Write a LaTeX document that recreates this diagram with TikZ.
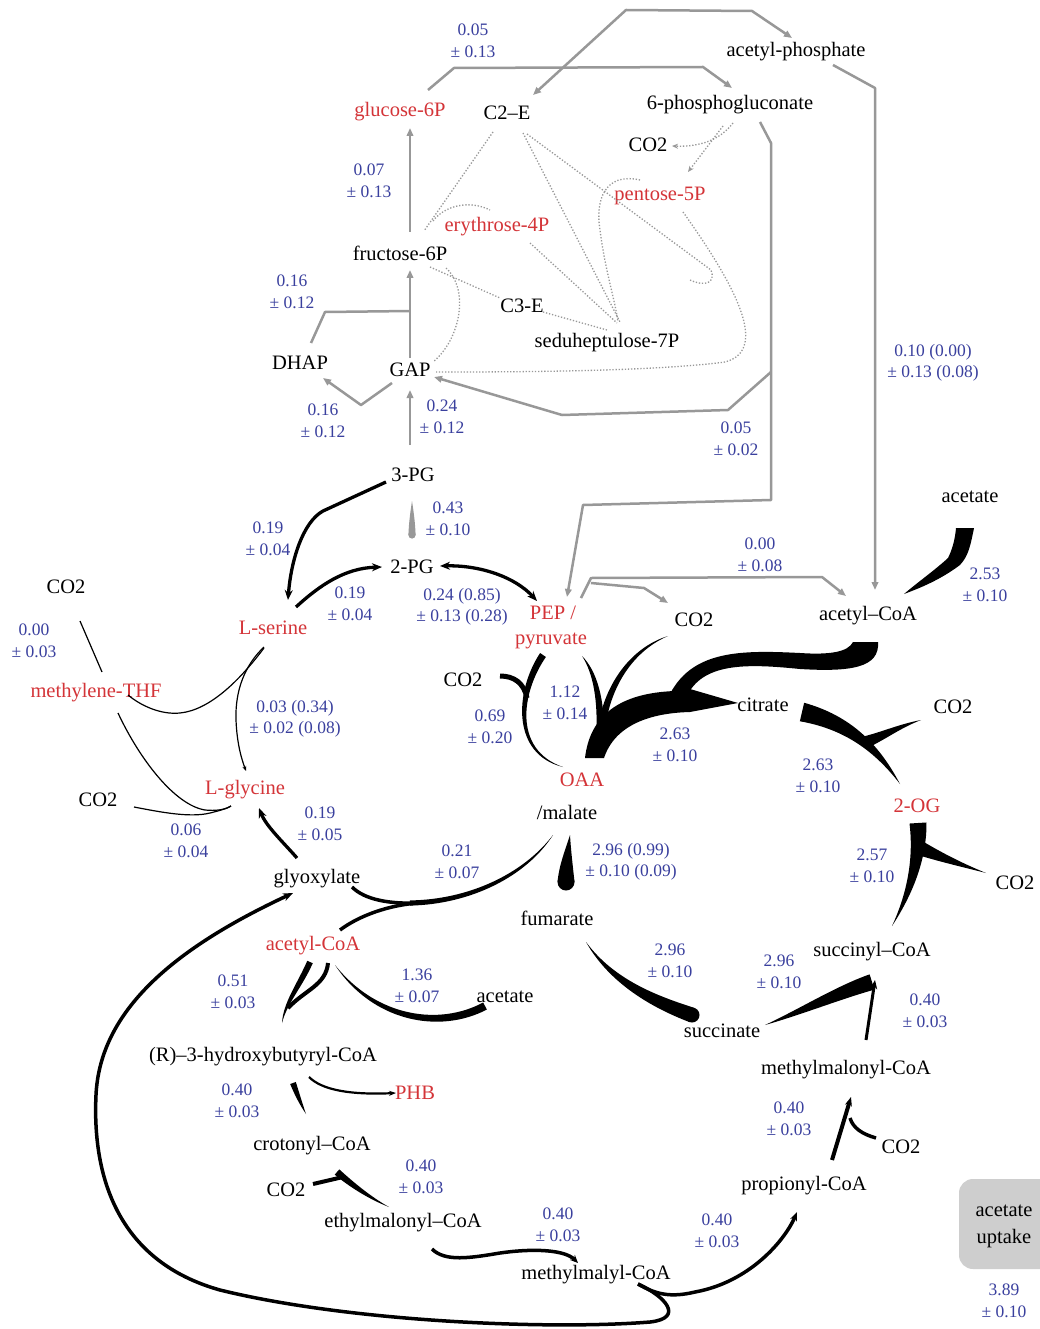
\documentclass[tikz,border=0pt]{standalone}
\usepackage{fontspec}
\setmainfont{Liberation Serif}
\usetikzlibrary{arrows.meta,calc}
\definecolor{fblue}{RGB}{58,64,158}
\definecolor{fred}{RGB}{212,52,56}
\definecolor{fgray}{RGB}{152,152,152}
\definecolor{boxgray}{RGB}{206,206,206}
% tapered filled stroke: P0, C1, C2, P3, half widths at P0, C1, C2
\newcommand{\tp}[8][black]{%
  \fill[#1] ($(#2)!#6!90:(#3)$) .. controls ($(#3)!#7!90:(#4)$) and ($(#4)!#8!90:(#5)$) .. (#5)
    .. controls ($(#4)!#8!-90:(#5)$) and ($(#3)!#7!-90:(#4)$) .. ($(#2)!#6!-90:(#3)$) -- cycle;}
\begin{document}
\begin{tikzpicture}[x=1pt,y=-1pt,
  met/.style={font=\fontsize{20.5}{24}\selectfont, inner sep=0pt, text=black},
  redm/.style={met, text=fred},
  flux/.style={font=\fontsize{17.5}{21.5}\selectfont, text=fblue, align=center, inner sep=0pt},
  gline/.style={draw=fgray, line width=2.5pt, line join=round},
  garr/.style={gline, -{Triangle[length=8pt,width=6.5pt]}},
  dotl/.style={draw=fgray, line width=1.3pt, dash pattern=on 1.3pt off 1.8pt},
  darr/.style={dotl, -{Stealth[length=6pt,width=5pt]}},
  bline/.style={draw=black, line width=3.3pt},
  barr/.style={bline, -{Stealth[length=10pt,width=8pt]}},
  thinl/.style={draw=black, line width=1.2pt}]
\fill[white] (0,0) rectangle (1040,1329);
\useasboundingbox (0,0) rectangle (1040,1329);

% ---------------- metabolites ----------------
\node[met] (acp) at (796,52) {acetyl-phosphate};
\node[redm] (g6p) at (400,112) {glucose-6P};
\node[met] (c2e) at (507,113) {C2–E};
\node[met] (pg6) at (730,105) {6-phosphogluconate};
\node[met] (co2a) at (648,145) {CO2};
\node[redm] (p5p) at (660,196) {pentose-5P};
\node[redm] (e4p) at (497,227) {erythrose-4P};
\node[met] (f6p) at (400,253) {fructose-6P};
\node[met] (c3e) at (522,306) {C3-E};
\node[met] (s7p) at (607,343) {seduheptulose-7P};
\node[met] (dhap) at (300,363) {DHAP};
\node[met] (gap) at (410,370) {GAP};
\node[met] (pg3) at (413,475) {3-PG};
\node[met] (acet1) at (970,497) {acetate};
\node[met] (pg2) at (412,567) {2-PG};
\node[met] (co2b) at (66,587) {CO2};
\node[redm] (pep) at (553,613) {PEP /};
\node[redm] (pyr) at (551,641) {pyruvate};
\node[met] (co2c) at (694,620) {CO2};
\node[met] (acoa1) at (868,616) {acetyl–CoA};
\node[redm] (ser) at (273,628) {L-serine};
\node[redm] (mthf) at (96,693) {methylene-THF};
\node[met] (co2d) at (463,680) {CO2};
\node[met] (cit) at (763,705) {citrate};
\node[met] (co2e) at (953,707) {CO2};
\node[redm] (oaa) at (582,780) {OAA};
\node[redm] (gly) at (245,790) {L-glycine};
\node[met] (co2f) at (98,800) {CO2};
\node[redm] (og) at (917,806) {2-OG};
\node[met] (mal) at (567,812) {/malate};
\node[met] (co2g) at (1015,883) {CO2};
\node[met] (glx) at (317,879) {glyoxylate};
\node[met] (fum) at (557,918) {fumarate};
\node[redm] (acoa2) at (313,946) {acetyl-CoA};
\node[met] (scoa) at (872,952) {succinyl–CoA};
\node[met] (acet2) at (505,997) {acetate};
\node[met] (succ) at (722,1031) {succinate};
\node[met] (hb) at (263,1057) {(R)–3-hydroxybutyryl-CoA};
\node[met] (mmcoa) at (846,1070) {methylmalonyl-CoA};
\node[redm] (phb) at (415,1093) {PHB};
\node[met] (crot) at (312,1146) {crotonyl–CoA};
\node[met] (co2h) at (901,1147) {CO2};
\node[met] (co2i) at (286,1190) {CO2};
\node[met] (prop) at (804,1186) {propionyl-CoA};
\node[met] (emcoa) at (403,1223) {ethylmalonyl–CoA};
\node[met] (mmal) at (596,1275) {methylmalyl-CoA};
\fill[boxgray, rounded corners=14pt] (959,1179) rectangle (1070,1269);
\node[met, align=center, font=\fontsize{20.5}{27}\selectfont] (upt) at (1004,1226) {acetate\\uptake};

% ---------------- flux labels ----------------
\node[flux] (f1) at (473,41) {0.05\\± 0.13};
\node[flux] (f2) at (369,181) {0.07\\± 0.13};
\node[flux] (f3) at (292,292) {0.16\\± 0.12};
\node[flux] (f4) at (933,363) {0.10 (0.00)\\± 0.13 (0.08)};
\node[flux] (f5) at (323,421) {0.16\\± 0.12};
\node[flux] (f6) at (442,417) {0.24\\± 0.12};
\node[flux] (f7) at (736,439) {0.05\\± 0.02};
\node[flux] (f8) at (448,519) {0.43\\± 0.10};
\node[flux] (f9) at (268,539) {0.19\\± 0.04};
\node[flux] (f10) at (760,555) {0.00\\± 0.08};
\node[flux] (f11) at (985,585) {2.53\\± 0.10};
\node[flux] (f12) at (350,604) {0.19\\± 0.04};
\node[flux] (f13) at (462,607) {0.24 (0.85)\\± 0.13 (0.28)};
\node[flux] (f14) at (34,641) {0.00\\± 0.03};
\node[flux] (f15) at (565,703) {1.12\\± 0.14};
\node[flux] (f16) at (295,719) {0.03 (0.34)\\± 0.02 (0.08)};
\node[flux] (f17) at (490,727) {0.69\\± 0.20};
\node[flux] (f18) at (675,745) {2.63\\± 0.10};
\node[flux] (f19) at (818,776) {2.63\\± 0.10};
\node[flux] (f20) at (320,824) {0.19\\± 0.05};
\node[flux] (f21) at (186,841) {0.06\\± 0.04};
\node[flux] (f22) at (631,862) {2.96 (0.99)\\± 0.10 (0.09)};
\node[flux] (f23) at (457,862) {0.21\\± 0.07};
\node[flux] (f24) at (872,866) {2.57\\± 0.10};
\node[flux] (f25) at (670,961) {2.96\\± 0.10};
\node[flux] (f26) at (779,972) {2.96\\± 0.10};
\node[flux] (f27) at (233,992) {0.51\\± 0.03};
\node[flux] (f28) at (417,986) {1.36\\± 0.07};
\node[flux] (f29) at (925,1011) {0.40\\± 0.03};
\node[flux] (f30) at (237,1101) {0.40\\± 0.03};
\node[flux] (f31) at (789,1119) {0.40\\± 0.03};
\node[flux] (f32) at (421,1177) {0.40\\± 0.03};
\node[flux] (f33) at (558,1225) {0.40\\± 0.03};
\node[flux] (f34) at (717,1231) {0.40\\± 0.03};
\node[flux] (f35) at (1004,1301) {3.89\\± 0.10};

% ---------------- gray connectors ----------------
\draw[garr] (428,90) -- (454,68) -- (703,67) -- (732,88);
\draw[gline, {Triangle[length=8pt,width=6.5pt]}-{Triangle[length=8pt,width=6.5pt]}] (533,95) -- (626,10) -- (752,11) -- (792,38);
\draw[garr] (833,65) -- (875,88) -- (875,590);
\draw[garr] (760,122) -- (771,143) -- (771,500) -- (583,505) -- (567,597);
\draw[garr] (771,372) -- (728,410) -- (562,415) -- (434,377);
\draw[garr] (410,232) -- (410,128);
\draw[garr] (410,358) -- (410,270);
\draw[gline] (311,343) -- (325,312) -- (410,311);
\draw[garr] (392,383) -- (361,405) -- (323,378);
\draw[garr] (410,445) -- (410,390);
\draw[garr] (581,598) -- (591,578) -- (822,577) -- (846,596);
\draw[garr] (591,583) -- (644,588) -- (668,603);
\fill[fgray] (412,535) circle (3.6);
\tp[fgray]{412,535}{412,524}{412,514}{412,501}{3.6pt}{3.2pt}{2pt}

% ---------------- dotted (pentose phosphate) ----------------
\draw[dotl] (493,132) -- (424,231);
\draw[dotl] (433,221) .. controls (445,205) and (470,200) .. (490,210);
\draw[dotl] (523,133) -- (620,322);
\draw[dotl] (527,134) -- (711,270) .. controls (716,283) and (705,287) .. (690,280);
\draw[dotl] (640,180) .. controls (605,172) and (595,200) .. (600,230) .. controls (605,270) and (615,300) .. (618,322);
\draw[dotl] (683,212) .. controls (735,285) and (770,350) .. (725,362) .. controls (650,372) and (500,372) .. (436,372);
\draw[dotl] (446,268) .. controls (470,290) and (460,340) .. (433,362);
\draw[dotl] (430,267) -- (500,298);
\draw[dotl] (543,312) -- (607,330);
\draw[dotl] (530,243) -- (617,323);
\draw[darr] (733,123) .. controls (720,140) and (700,147) .. (672,146);
\draw[darr] (723,126) -- (688,172);

% ---------------- black connectors ----------------
% 3-PG -> L-serine
\draw[barr] (386,482) -- (323,511) .. controls (303,522) and (291,560) .. (288,600);
% L-serine -> 2-PG
\draw[barr] (296,607) .. controls (320,585) and (345,568) .. (382,567);
% PEP <-> 2-PG
\draw[bline, {Stealth[length=10pt,width=8pt]}-{Stealth[length=10pt,width=8pt]}] (537,601) .. controls (515,577) and (480,565) .. (440,566);
% PEP + CO2 -> OAA
\tp{543,655}{518,692}{512,752}{563,767}{3.5pt}{3.5pt}{2.5pt}
\draw[line width=5pt] (500,676) .. controls (514,676) and (524,683) .. (527,698);
% OAA -> PEP + CO2
\tp{600,742}{602,700}{595,672}{582,656}{4pt}{3.6pt}{2.2pt}
\tp{600,742}{603,690}{630,650}{668,636}{4pt}{3.6pt}{2.2pt}
% OAA -> citrate
\fill (585,758) .. controls (590,715) and (620,693) .. (675,691) -- (690,689) -- (738,703) -- (690,712) .. controls (650,713) and (615,725) .. (604,758) -- cycle;
% acetyl-CoA -> citrate
\fill (853,642) -- (878,642) .. controls (880,668) and (850,672) .. (800,669) .. controls (750,664) and (705,662) .. (688,694) -- (668,698) .. controls (690,650) and (740,650) .. (800,653) .. controls (830,655) and (848,652) .. (853,642) -- cycle;
% citrate -> 2-OG + CO2
\tp{802,712}{845,722}{875,745}{900,784}{9.5pt}{8pt}{4pt}
\tp{866,742}{885,735}{900,726}{921,720}{6pt}{4pt}{2pt}
% 2-OG -> succinyl-CoA + CO2
\tp{918,823}{920,855}{912,890}{892,926}{8.5pt}{7pt}{3pt}
\tp{922,849}{945,859}{965,866}{986,873}{7pt}{4pt}{1.5pt}
% acetate -> acetyl-CoA (right)
\fill (956,528) -- (974,528) .. controls (970,548) and (968,556) .. (960,565) .. controls (940,580) and (920,588) .. (904,594) .. controls (918,582) and (935,570) .. (948,558) .. controls (952,550) and (955,540) .. (956,528) -- cycle;
% succinyl-CoA -> succinate
\tp{872,982}{840,992}{800,1012}{765,1025}{8pt}{7pt}{3pt}
% succinate -> fumarate
\fill (692,1015) circle (7.5);
\tp{692,1015}{655,1002}{612,982}{586,942}{7.5pt}{6.5pt}{3pt}
% fumarate -> malate
\fill (566,882) circle (8.5);
\tp{566,882}{566,866}{568,851}{570,835}{8.5pt}{7pt}{3pt}
% glyoxylate + acetyl-CoA -> malate
\draw[line width=3.5pt] (352,887) .. controls (365,900) and (390,904) .. (418,903);
\draw[line width=3.5pt] (340,930) .. controls (360,915) and (390,905) .. (418,903);
\tp{410,903}{470,902}{525,875}{553,835}{2.6pt}{2.6pt}{2pt}
% glyoxylate -> L-glycine
\draw[barr] (297,858) .. controls (283,842) and (266,826) .. (259,808);
% 2 acetyl-CoA -> 3-hydroxybutyryl-CoA
\tp{310,962}{300,985}{285,1003}{282,1023}{3pt}{3pt}{2pt}
\draw[line width=4pt] (328,963) .. controls (326,985) and (305,990) .. (288,1008);
% acetate -> acetyl-CoA (left)
\tp{485,1006}{440,1030}{375,1020}{335,965}{4pt}{4.5pt}{3pt}
% 3-HB-CoA -> crotonyl-CoA
\tp{293,1083}{297,1094}{301,1104}{306,1114}{3pt}{2.5pt}{1.5pt}
% 3-HB-CoA -> PHB
\draw[line width=2.2pt, -{Stealth[length=7pt,width=5pt]}] (309,1077) .. controls (322,1090) and (350,1095) .. (396,1093);
% crotonyl-CoA + CO2 -> ethylmalonyl-CoA
\draw[line width=4pt] (313,1184) -- (343,1177);
\tp{337,1172}{352,1185}{370,1198}{389,1207}{3.5pt}{3pt}{1.5pt}
% ethylmalonyl-CoA -> methylmalyl-CoA
\draw[line width=3.5pt, -{Stealth[length=8pt,width=7pt]}] (432,1249) .. controls (445,1262) and (470,1258) .. (500,1253) .. controls (535,1248) and (565,1250) .. (578,1263);
% methylmalyl-CoA -> propionyl-CoA
\draw[line width=3.5pt, -{Stealth[length=9pt,width=7pt]}] (638,1284) .. controls (655,1294) and (670,1298) .. (695,1292) .. controls (750,1282) and (785,1240) .. (797,1212);
% methylmalyl-CoA -> glyoxylate (loop)
\draw[line width=3.5pt, -{Stealth[length=10pt,width=8pt]}] (638,1284) .. controls (665,1296) and (685,1318) .. (650,1322) .. controls (550,1330) and (350,1322) .. (220,1290) .. controls (120,1262) and (92,1180) .. (96,1095) .. controls (100,1010) and (175,948) .. (293,893);
% propionyl-CoA + CO2 -> methylmalonyl-CoA
\draw[line width=4pt, -{Stealth[length=9pt,width=7pt]}] (832,1160) -- (851,1097);
\draw[line width=3.5pt] (876,1138) .. controls (862,1134) and (853,1128) .. (850,1118);
% methylmalonyl-CoA -> succinyl-CoA
\draw[line width=3pt, -{Stealth[length=9pt,width=7pt]}] (866,1040) -- (875,980);

% ---------------- thin C1 lines ----------------
\draw[thinl, -{Stealth[length=5pt,width=4pt]}] (264,647) .. controls (245,665) and (235,690) .. (236,720) .. controls (237,745) and (242,760) .. (246,771);
\draw[thinl] (264,648) .. controls (240,680) and (210,710) .. (180,713) .. controls (160,715) and (140,705) .. (128,695);
\draw[thinl] (118,713) .. controls (140,760) and (175,805) .. (205,810) .. controls (215,811) and (225,810) .. (231,806);
\draw[thinl] (134,807) .. controls (160,812) and (190,818) .. (210,813) .. controls (218,811) and (226,809) .. (231,806);
\draw[thinl] (80,621) -- (102,672);
\end{tikzpicture}
\end{document}
